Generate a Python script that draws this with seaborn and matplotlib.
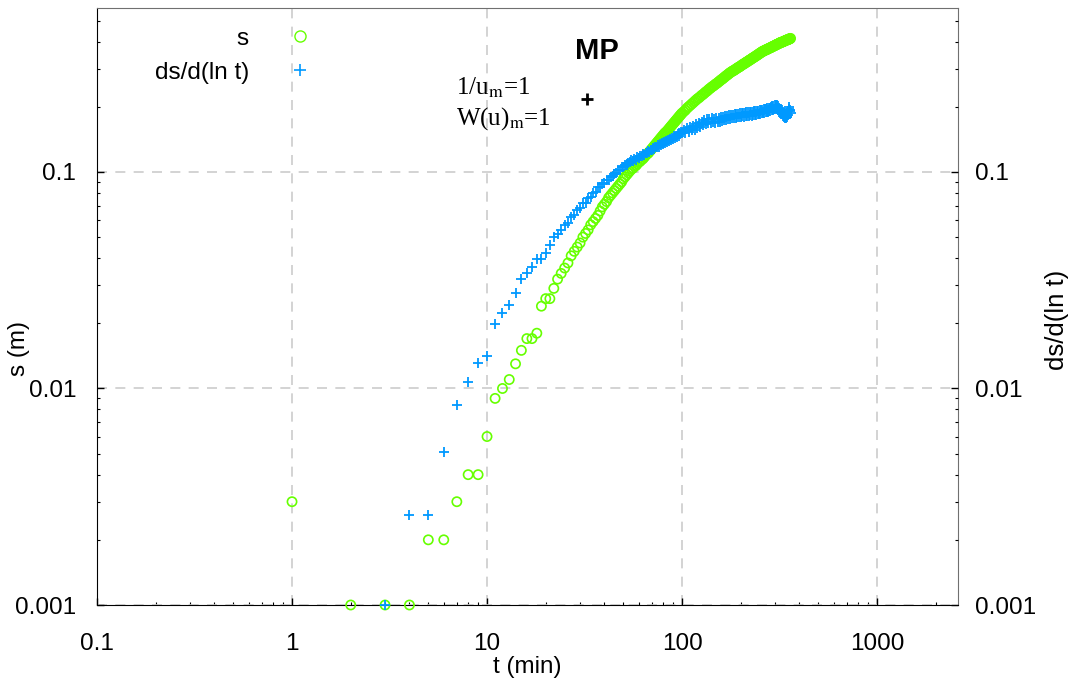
import numpy as np
import pandas as pd
import matplotlib
matplotlib.use("Agg")
import matplotlib.pyplot as plt
from matplotlib.lines import Line2D
from matplotlib.ticker import LogLocator, NullFormatter
import seaborn as sns

# --- data ---
# drawdown s (m), early sparse readings
t_s_early = [1, 2, 3, 4, 5, 6, 7, 8, 9, 10, 11, 12, 13, 14, 15, 16, 17, 18,
             19, 20, 21, 22, 23, 24]
s_early = [0.003, 0.001, 0.001, 0.001, 0.002, 0.002, 0.003, 0.004, 0.004,
           0.006, 0.009, 0.010, 0.011, 0.013, 0.015, 0.017, 0.017, 0.018,
           0.024, 0.026, 0.026, 0.029, 0.032, 0.034]

# derivative ds/d(ln t), early sparse readings
t_ds_early = [3, 4, 5, 6, 7, 8, 9, 10, 11, 12, 13, 14, 15, 16, 17, 18, 19,
              20, 21, 22, 23, 24]
ds_early = [0.001, 0.0026, 0.0026, 0.0051, 0.0084, 0.0107, 0.0131, 0.0141,
            0.0199, 0.0222, 0.0243, 0.0277, 0.0319, 0.0343, 0.0363, 0.0395,
            0.0398, 0.0424, 0.0460, 0.0499, 0.0517, 0.0540]

# dense part (same times for both series): every minute to 100, then every 2
t_dense = [25, 26, 27, 28, 29, 30, 31, 32, 33, 34, 35, 36, 37, 38, 39, 40,
           41, 42, 43, 44, 45, 46, 47, 48, 49, 50, 51, 52, 53, 54, 55, 56,
           57, 58, 59, 60, 61, 62, 63, 64, 65, 66, 67, 68, 69, 70, 71, 72,
           73, 74, 75, 76, 77, 78, 79, 80, 81, 82, 83, 84, 85, 86, 87, 88,
           89, 90, 91, 92, 93, 94, 95, 96, 97, 98, 99, 100,
           102, 104, 106, 108, 110, 112, 114, 116, 118, 120,
           122, 124, 126, 128, 130, 132, 134, 136, 138, 140,
           142, 144, 146, 148, 150, 152, 154, 156, 158, 160,
           162, 164, 166, 168, 170, 172, 174, 176, 178, 180,
           182, 184, 186, 188, 190, 192, 194, 196, 198, 200,
           202, 204, 206, 208, 210, 212, 214, 216, 218, 220,
           222, 224, 226, 228, 230, 232, 234, 236, 238, 240,
           242, 244, 246, 248, 250, 252, 254, 256, 258, 260,
           262, 264, 266, 268, 270, 272, 274, 276, 278, 280,
           282, 284, 286, 288, 290, 292, 294, 296, 298, 300,
           302, 304, 306, 308, 310, 312, 314, 316, 318, 320,
           322, 324, 326, 328, 330, 332, 334, 336, 338, 340,
           342, 344, 346, 348, 350, 352, 354, 356, 358, 360]

s_dense = [0.036, 0.038, 0.041, 0.043, 0.045, 0.047, 0.050, 0.052, 0.054,
           0.057, 0.059, 0.061, 0.063, 0.066, 0.069, 0.071, 0.073, 0.076,
           0.078, 0.080, 0.082, 0.084, 0.086, 0.088, 0.090, 0.093, 0.095,
           0.097, 0.099, 0.101, 0.103, 0.104, 0.106, 0.107, 0.109, 0.111,
           0.112, 0.114, 0.115, 0.117, 0.119, 0.121, 0.122, 0.124, 0.126,
           0.128, 0.130, 0.132, 0.134, 0.136, 0.138, 0.140, 0.142, 0.144,
           0.146, 0.148, 0.150, 0.152, 0.153, 0.155, 0.157, 0.159, 0.161,
           0.163, 0.165, 0.167, 0.169, 0.171, 0.173, 0.175, 0.177, 0.179,
           0.181, 0.183, 0.185, 0.187,
           0.190, 0.193, 0.197, 0.200, 0.203, 0.206, 0.209, 0.212, 0.215, 0.218,
           0.220, 0.223, 0.226, 0.228, 0.231, 0.234, 0.236, 0.239, 0.242, 0.244,
           0.247, 0.249, 0.251, 0.254, 0.256, 0.258, 0.261, 0.263, 0.266, 0.268,
           0.270, 0.273, 0.275, 0.278, 0.280, 0.282, 0.285, 0.287, 0.289, 0.291,
           0.293, 0.294, 0.296, 0.298, 0.300, 0.302, 0.304, 0.305, 0.307, 0.309,
           0.311, 0.313, 0.315, 0.316, 0.318, 0.320, 0.322, 0.323, 0.325, 0.327,
           0.329, 0.330, 0.332, 0.334, 0.336, 0.337, 0.339, 0.341, 0.342, 0.344,
           0.346, 0.348, 0.349, 0.351, 0.353, 0.355, 0.356, 0.358, 0.360, 0.361,
           0.362, 0.363, 0.365, 0.366, 0.367, 0.368, 0.369, 0.370, 0.372, 0.373,
           0.374, 0.375, 0.376, 0.377, 0.379, 0.380, 0.381, 0.382, 0.383, 0.384,
           0.386, 0.387, 0.388, 0.389, 0.390, 0.391, 0.392, 0.394, 0.395, 0.396,
           0.397, 0.397, 0.398, 0.399, 0.400, 0.401, 0.402, 0.403, 0.404, 0.405,
           0.406, 0.407, 0.408, 0.408, 0.409, 0.410, 0.411, 0.412, 0.413, 0.414]

ds_dense = [0.057, 0.058, 0.062, 0.063, 0.067, 0.068, 0.072, 0.072, 0.076,
            0.077, 0.080, 0.081, 0.085, 0.085, 0.088, 0.089, 0.092, 0.092,
            0.095, 0.096, 0.098, 0.099, 0.102, 0.102, 0.105, 0.105, 0.108,
            0.108, 0.110, 0.111, 0.113, 0.112, 0.115, 0.114, 0.117, 0.116,
            0.119, 0.118, 0.121, 0.120, 0.123, 0.122, 0.125, 0.124, 0.127,
            0.126, 0.129, 0.128, 0.131, 0.130, 0.133, 0.131, 0.134, 0.133,
            0.136, 0.135, 0.138, 0.136, 0.139, 0.138, 0.141, 0.139, 0.142,
            0.141, 0.144, 0.142, 0.146, 0.144, 0.147, 0.145, 0.149, 0.147,
            0.151, 0.149, 0.153, 0.151,
            0.156, 0.151, 0.159, 0.153, 0.161, 0.156, 0.163, 0.157, 0.166, 0.160,
            0.168, 0.162, 0.171, 0.165, 0.173, 0.167, 0.175, 0.168, 0.176, 0.169,
            0.177, 0.170, 0.176, 0.169, 0.177, 0.171, 0.178, 0.171, 0.179, 0.172,
            0.180, 0.173, 0.181, 0.174, 0.182, 0.175, 0.183, 0.176, 0.183, 0.177,
            0.184, 0.177, 0.185, 0.178, 0.186, 0.179, 0.186, 0.180, 0.187, 0.180,
            0.188, 0.181, 0.187, 0.180, 0.188, 0.181, 0.189, 0.182, 0.189, 0.182,
            0.190, 0.183, 0.189, 0.182, 0.190, 0.183, 0.191, 0.184, 0.191, 0.184,
            0.192, 0.185, 0.192, 0.185, 0.193, 0.186, 0.193, 0.187, 0.194, 0.187,
            0.195, 0.188, 0.195, 0.189, 0.196, 0.189, 0.197, 0.190, 0.198, 0.191,
            0.198, 0.192, 0.199, 0.193, 0.201, 0.194, 0.202, 0.195, 0.203, 0.196,
            0.204, 0.197, 0.203, 0.196, 0.201, 0.194, 0.198, 0.191, 0.195, 0.188,
            0.192, 0.185, 0.189, 0.182, 0.186, 0.180, 0.184, 0.178, 0.182, 0.177,
            0.183, 0.179, 0.187, 0.183, 0.192, 0.196, 0.200, 0.193, 0.191, 0.187]

# match point
mp_t = [32.4]
mp_s = [0.217]

x_ticks = [0.1, 1, 10, 100, 1000]
x_labels = ["0.1", "1", "10", "100", "1000"]
y_ticks = [0.001, 0.01, 0.1]
y_labels = ["0.001", "0.01", "0.1"]

GREEN = "#66ff00"
BLUE = "#0099ff"
FS = 17.5

df_s = pd.DataFrame({"t": t_s_early + t_dense, "value": s_early + s_dense})
df_ds = pd.DataFrame({"t": t_ds_early + t_dense, "value": ds_early + ds_dense})

sns.set_style("ticks")
plt.rcParams["font.family"] = ["Liberation Sans", "DejaVu Sans"]
plt.rcParams["mathtext.fontset"] = "stix"
for key in ["text.color", "axes.labelcolor", "xtick.color", "ytick.color"]:
    plt.rcParams[key] = "black"

fig = plt.figure(figsize=(10.69, 6.84), dpi=100)
ax = fig.add_axes([97 / 1069, 1 - 605 / 684, (958 - 97) / 1069, (605 - 7.5) / 684])

sns.scatterplot(data=df_s, x="t", y="value", marker="o", s=44,
                facecolors="none", edgecolor=GREEN, linewidth=1.2,
                clip_on=False, ax=ax, zorder=3)
sns.scatterplot(data=df_ds, x="t", y="value", marker="+", s=60,
                color=BLUE, linewidth=1.3, clip_on=False, ax=ax, zorder=4)
ax.plot(mp_t, mp_s, marker="+", ls="none", color="black", ms=9, mew=2)

ax.set_xscale("log")
ax.set_yscale("log")
ax.set_xlim(0.1, 2600)
ax.set_ylim(0.001, 0.575)

ax.set_xticks(x_ticks)
ax.set_xticklabels(x_labels)
ax.set_yticks(y_ticks)
ax.set_yticklabels(y_labels)
ax.xaxis.set_minor_locator(LogLocator(base=10, subs=np.arange(2, 10)))
ax.yaxis.set_minor_locator(LogLocator(base=10, subs=np.arange(2, 10)))
ax.xaxis.set_minor_formatter(NullFormatter())
ax.yaxis.set_minor_formatter(NullFormatter())

ax.tick_params(which="major", direction="in", length=5, width=1, labelsize=FS,
               top=False, right=False)
ax.tick_params(which="minor", direction="in", length=2.5, width=0.8,
               top=False, right=False)
ax.tick_params(axis="x", which="major", pad=20)
ax.tick_params(axis="y", which="major", pad=15)

ax.grid(True, which="major", ls=(0, (6, 5)), color="#cccccc", lw=1.2)
ax.set_xlabel("t (min)", fontsize=FS)
ax.xaxis.set_label_coords(0.5, -0.085)
ax.set_ylabel("s (m)", fontsize=FS)
ax.yaxis.set_label_coords(-0.078, 0.43)

for side in ["top", "right"]:
    ax.spines[side].set_color("#707070")
for side in ["left", "bottom"]:
    ax.spines[side].set_color("black")

ax2 = ax.twinx()
ax2.set_yscale("log")
ax2.set_ylim(0.001, 0.575)
ax2.set_yticks(y_ticks)
ax2.set_yticklabels(y_labels)
ax2.yaxis.set_minor_locator(LogLocator(base=10, subs=np.arange(2, 10)))
ax2.yaxis.set_minor_formatter(NullFormatter())
ax2.tick_params(which="major", direction="in", length=5, width=1, labelsize=FS, pad=12)
ax2.tick_params(which="minor", direction="in", length=2.5, width=0.8)
ax2.set_ylabel("ds/d(ln t)", fontsize=18.5)
ax2.yaxis.set_label_coords(1.101, 0.477)
for side in ["top", "right", "left", "bottom"]:
    ax2.spines[side].set_visible(False)

handles = [
    Line2D([], [], marker="o", ls="none", mfc="none", mec=GREEN, ms=8, mew=1),
    Line2D([], [], marker="+", ls="none", color=BLUE, ms=9, mew=1.2),
]
ax.legend(handles, ["s", "ds/d(ln t)"], markerfirst=False, frameon=False,
          loc="upper right", bbox_to_anchor=(0.2497, 0.9665), fontsize=FS,
          handlelength=1, handletextpad=1.6, labelspacing=0.5,
          borderpad=0, borderaxespad=0)

fig.text(456 / 1069, 1 - 95 / 684, r"1/u$_{\mathrm{m}}$=1", fontsize=18,
         family=["Liberation Serif", "DejaVu Serif"], va="baseline")
fig.text(456 / 1069, 1 - 125 / 684, r"W(u)$_{\mathrm{m}}$=1", fontsize=18,
         family=["Liberation Serif", "DejaVu Serif"], va="baseline")
fig.text(575 / 1069, 1 - 59 / 684, "MP", fontsize=21, fontweight="bold",
         va="baseline")

fig.savefig("out.png", dpi=100)
